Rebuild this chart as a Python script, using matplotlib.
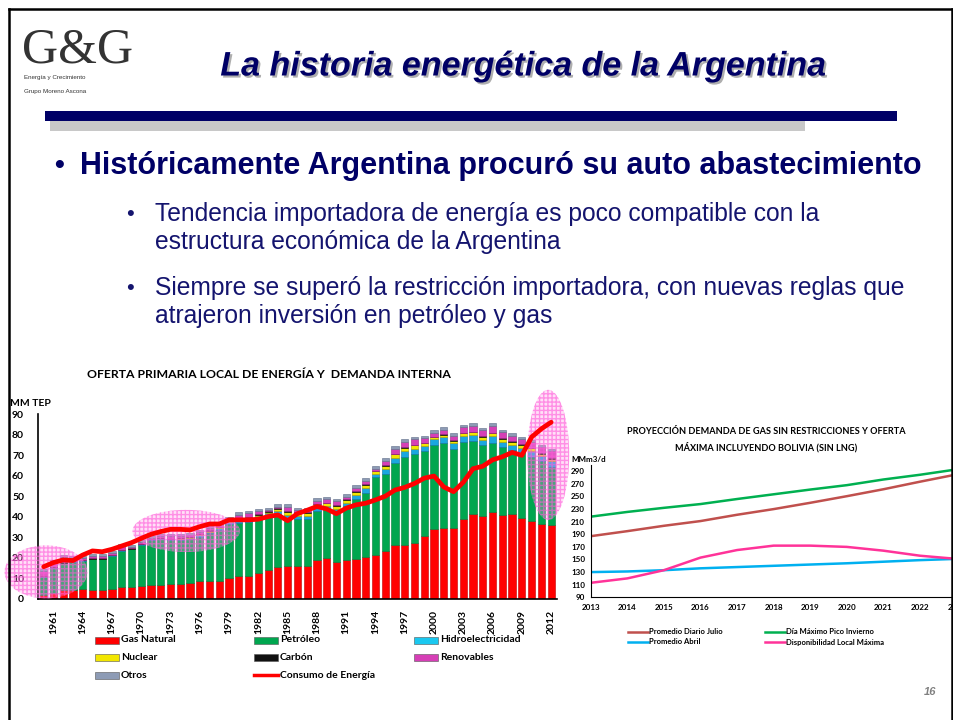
import numpy as np
import matplotlib
matplotlib.use("Agg")
import matplotlib.pyplot as plt
import matplotlib.patheffects as pe
from matplotlib.patches import Ellipse, Rectangle
from matplotlib.lines import Line2D

# --------------------------------------------------------------
# Data: oferta primaria local (MM TEP), 1960-2012
# --------------------------------------------------------------
years = list(range(1960, 2013))

gas_natural = [1.9, 2.9, 4.5, 4.5, 4.9, 4.5, 4.5, 4.9, 5.8, 5.8,
               6.5, 6.8, 6.8, 7.5, 7.5, 7.8, 8.8, 8.8, 8.8, 10.4,
               11.4, 11.4, 12.7, 14.3, 15.6, 16.2, 16.2, 16.2, 19.2, 20.1,
               18.0, 19.2, 19.5, 20.5, 21.4, 23.4, 26.3, 26.3, 27.1, 30.8,
               34.1, 34.7, 34.7, 39.0, 41.4, 40.6, 42.2, 40.9, 41.4, 39.6,
               38.0, 36.7, 36.0]
petroleo = [9.0, 12.4, 12.9, 13.7, 13.7, 14.8, 14.8, 16.1, 17.6, 18.4,
            19.8, 21.8, 22.4, 21.2, 21.2, 21.2, 21.6, 23.2, 24.7, 26.1,
            25.4, 26.3, 26.3, 25.8, 25.6, 22.6, 22.6, 22.6, 23.8, 23.6,
            24.2, 26.1, 29.0, 31.0, 38.1, 37.6, 40.1, 43.0, 43.5, 41.3,
            40.9, 41.1, 38.2, 37.6, 35.7, 34.1, 33.9, 33.0, 31.2, 31.3,
            31.3, 30.2, 28.4]
hidro = [0.2, 0.2, 0.2, 0.2, 0.2, 0.3, 0.3, 0.3, 0.3, 0.3,
         0.3, 0.4, 0.4, 0.4, 0.5, 0.6, 0.7, 0.8, 0.8, 1.0,
         1.3, 1.4, 1.5, 1.5, 1.6, 2.2, 1.8, 1.8, 1.8, 1.6,
         1.6, 1.6, 2.0, 2.3, 1.4, 2.4, 2.4, 2.6, 2.6, 2.3,
         2.6, 3.0, 3.0, 2.7, 2.5, 2.6, 3.0, 2.6, 2.5, 2.6,
         2.6, 2.5, 2.5]
nuclear = [0, 0, 0, 0, 0, 0, 0, 0, 0, 0,
           0, 0, 0, 0, 0.4, 0.5, 0.5, 0.5, 0.5, 0.6,
           0.6, 0.6, 0.6, 0.8, 1.0, 1.4, 1.2, 1.2, 1.2, 1.2,
           1.6, 1.4, 1.7, 1.7, 1.2, 1.5, 1.5, 1.6, 1.5, 1.4,
           1.1, 1.2, 1.2, 1.4, 1.5, 1.5, 1.6, 1.4, 1.3, 1.5,
           1.4, 1.2, 1.2]
carbon = [0.2] * 20 + [0.3] * 33
renovables = [2.3, 2.3, 2.6, 1.4, 0.8, 1.1, 0.9, 1.0, 1.9, 0.8,
              0.8, 0.5, 0.9, 1.2, 0.9, 1.0, 0.8, 1.0, 0.8, 0.5,
              2.0, 1.7, 1.4, 0.6, 0.8, 2.2, 1.2, 1.2, 1.5, 1.7,
              1.8, 1.2, 1.7, 1.7, 1.0, 2.1, 2.4, 2.8, 2.8, 2.2,
              1.9, 2.1, 2.1, 2.5, 3.0, 3.1, 3.4, 2.9, 2.8, 2.5,
              2.6, 2.9, 3.6]
otros = [1.0] * 20 + [1.2] * 33
consumo = [15.7, 17.7, 19.0, 18.7, 21.4, 23.4, 23.0, 24.2, 25.8, 27.4,
           29.5, 31.5, 32.8, 33.9, 33.9, 33.6, 35.2, 36.5, 36.5, 38.5,
           38.5, 38.5, 38.8, 40.1, 40.9, 38.1, 41.5, 43.2, 45.0, 43.8,
           41.5, 44.2, 45.8, 46.6, 48.2, 50.0, 53.0, 54.3, 56.2, 58.8,
           59.8, 54.5, 52.2, 56.8, 63.4, 64.6, 67.7, 69.2, 71.3, 69.9,
           78.8, 82.8, 86.0]

# --------------------------------------------------------------
# Data: proyeccion demanda de gas (MMm3/d), 2013-2023
# --------------------------------------------------------------
proj_years = list(range(2013, 2024))
promedio_julio = [187, 195, 203.5, 211, 221, 230, 240, 250.5, 261.5, 273.5, 285]
pico_invierno = [218, 225.5, 232, 238, 246, 253.5, 261, 268, 277, 284.5, 293]
promedio_abril = [130, 131, 133, 136, 138, 140, 142, 144, 146.5, 149, 151]
disponibilidad = [113, 120, 133, 153, 165, 172, 172, 170, 164, 156, 151]

# --------------------------------------------------------------
# Figure / slide helpers
# --------------------------------------------------------------
W, H = 954, 720
NAVY = "#000066"
SUB = "#14146E"
CHART_FONT = "Lato"
SLIDE_FONT = "Liberation Sans"


def fx(x):
    return x / W


def fy(y):
    return 1 - y / H


def box(l, t, r, b):
    return [l / W, 1 - b / H, (r - l) / W, (b - t) / H]


fig = plt.figure(figsize=(W / 100, H / 100), dpi=100)
fig.patch.set_facecolor("white")

# slide frame
fig.add_artist(Line2D([fx(9), fx(9)], [fy(9), fy(720)], color="black", lw=1.8))
fig.add_artist(Line2D([fx(9), fx(952)], [fy(9), fy(9)], color="black", lw=1.8))
fig.add_artist(Line2D([fx(952), fx(952)], [fy(9), fy(720)], color="black", lw=1.8))

# logo
fig.text(fx(22), fy(50), "G&G", family="Liberation Serif", fontsize=36,
         color="#333333", va="center", ha="left")
fig.text(fx(24), fy(78), "Energía y Crecimiento", family=SLIDE_FONT,
         fontsize=4.5, color="#333333", va="center")
fig.text(fx(24), fy(91), "Grupo Moreno Ascona", family=SLIDE_FONT,
         fontsize=4.5, color="#333333", va="center")

# title with shadow
fig.text(fx(523), fy(67), "La historia energética de la Argentina",
         family=SLIDE_FONT, fontsize=24.5, weight="bold", style="italic",
         color=NAVY, ha="center", va="center",
         path_effects=[pe.withSimplePatchShadow(offset=(1.5, -1.5),
                                                shadow_rgbFace="#9A9A9A", alpha=0.8)])

# title bars
fig.add_artist(Rectangle((fx(50), fy(131)), fx(805 - 50), 10 / H,
                         transform=fig.transFigure, color="#C8C8C8", lw=0))
fig.add_artist(Rectangle((fx(45), fy(121)), fx(897 - 45), 10 / H,
                         transform=fig.transFigure, color="#000066", lw=0))

# bullets
fig.text(fx(54), fy(166), "•", family=SLIDE_FONT, fontsize=20, weight="bold",
         color=NAVY, va="center")
fig.text(fx(80), fy(166), "Históricamente Argentina procuró su auto abastecimiento",
         family=SLIDE_FONT, fontsize=22, weight="bold", color=NAVY, va="center")

fig.text(fx(126), fy(214), "•", family=SLIDE_FONT, fontsize=16, color=SUB, va="center")
fig.text(fx(155), fy(214), "Tendencia importadora de energía es poco compatible con la",
         family=SLIDE_FONT, fontsize=17.7, color=SUB, va="center")
fig.text(fx(155), fy(242), "estructura económica de la Argentina",
         family=SLIDE_FONT, fontsize=17.7, color=SUB, va="center")
fig.text(fx(126), fy(288), "•", family=SLIDE_FONT, fontsize=16, color=SUB, va="center")
fig.text(fx(155), fy(288), "Siempre se superó la restricción importadora, con nuevas reglas que",
         family=SLIDE_FONT, fontsize=17.7, color=SUB, va="center")
fig.text(fx(155), fy(316), "atrajeron inversión en petróleo y gas",
         family=SLIDE_FONT, fontsize=17.7, color=SUB, va="center")

fig.text(fx(936), fy(692), "16", family=SLIDE_FONT, fontsize=8, weight="bold",
         style="italic", color="#808080", ha="right", va="center")

# --------------------------------------------------------------
# Left chart: stacked bars + consumo
# --------------------------------------------------------------
ax = fig.add_axes(box(38, 414, 557, 599))
x = np.arange(len(years))
layers = [
    (gas_natural, "#FF0000", "#C00000"),
    (petroleo, "#00A64F", "#007A3A"),
    (hidro, "#1AA7E0", "#0B6E9E"),
    (nuclear, "#F2E600", "#A89E00"),
    (carbon, "#222222", "#000000"),
    (renovables, "#D63FB6", "#9A2080"),
    (otros, "#8D9BB5", "#5E6C88"),
]
bottom = np.zeros(len(years))
for vals, col, edge in layers:
    vals = np.array(vals, dtype=float)
    ax.bar(x, vals, 0.74, bottom=bottom, color=col, edgecolor=edge,
           linewidth=0.4, zorder=2)
    bottom += vals
ax.plot(x, consumo, color="#FF0000", lw=3.4, solid_capstyle="round",
        solid_joinstyle="round", zorder=4)

ax.set_xlim(-0.58, 52.6)
ax.set_ylim(0, 90)
ax.set_yticks(range(0, 91, 10))
ax.set_xticks(x[1::3])
ax.set_xticklabels([str(y) for y in years[1::3]], rotation=90)
for s in ["top", "right"]:
    ax.spines[s].set_visible(False)
ax.spines["left"].set_linewidth(1.2)
ax.spines["bottom"].set_linewidth(1.2)
ax.tick_params(axis="both", length=0, labelsize=7.5)
ax.tick_params(axis="y", pad=10)
ax.tick_params(axis="x", pad=8)
for t in ax.get_xticklabels() + ax.get_yticklabels():
    t.set_fontweight("bold")
    t.set_family(CHART_FONT)

# pink hatched highlight ellipses
for cx, cy, w, h in [(0.24, 13.2, 8.5, 25.8), (14.6, 33.1, 11.0, 20.5),
                     (51.7, 70.1, 4.3, 63.3)]:
    e = Ellipse((cx, cy), w, h, facecolor=(1, 0.6, 0.9, 0.3),
                edgecolor=(1, 0.35, 0.85, 0.6), hatch="++++", lw=0,
                clip_on=False, zorder=3)
    ax.add_patch(e)

fig.text(fx(269), fy(375), "OFERTA PRIMARIA LOCAL DE ENERGÍA Y  DEMANDA INTERNA",
         family=CHART_FONT, fontsize=8.8, weight="bold", ha="center", va="center")
fig.text(fx(10), fy(403), "MM TEP", family=CHART_FONT, fontsize=7.5,
         weight="bold", ha="left", va="center")

# legend (left chart)
leg_items = [
    (95, 640, "#FF0000", "Gas Natural", "patch"),
    (254, 640, "#00A64F", "Petróleo", "patch"),
    (414, 640, "#1AC8F0", "Hidroelectricidad", "patch"),
    (95, 657, "#F2E600", "Nuclear", "patch"),
    (254, 657, "#111111", "Carbón", "patch"),
    (414, 657, "#D63FB6", "Renovables", "patch"),
    (95, 675, "#8D9BB5", "Otros", "patch"),
    (254, 675, "#FF0000", "Consumo de Energía", "line"),
]
for lx, ly, col, lab, kind in leg_items:
    if kind == "patch":
        fig.add_artist(Rectangle((fx(lx), fy(ly + 3.5)), 24 / W, 7 / H,
                                 transform=fig.transFigure, facecolor=col,
                                 edgecolor="#555555", lw=0.4))
    else:
        fig.add_artist(Line2D([fx(lx), fx(lx + 24)], [fy(ly), fy(ly)],
                              color=col, lw=2.5))
    fig.text(fx(lx + 26), fy(ly), lab, family=CHART_FONT, fontsize=7.5,
             weight="bold", va="center", ha="left")

# --------------------------------------------------------------
# Right chart: proyeccion de gas
# --------------------------------------------------------------
ax2 = fig.add_axes(box(590.7, 465, 956.6, 597.3))
ax2.plot(proj_years, promedio_julio, color="#C0504D", lw=1.8)
ax2.plot(proj_years, pico_invierno, color="#00B050", lw=1.8)
ax2.plot(proj_years, promedio_abril, color="#00B0F0", lw=1.8)
ax2.plot(proj_years, disponibilidad, color="#FF3399", lw=1.8)
ax2.set_xlim(2013, 2023)
ax2.set_ylim(90, 300)
ax2.set_yticks(range(90, 300, 20))
ax2.set_xticks(proj_years)
for s in ["top", "right"]:
    ax2.spines[s].set_visible(False)
ax2.tick_params(axis="both", length=0, labelsize=5.8)
ax2.tick_params(axis="y", pad=4)
ax2.tick_params(axis="x", pad=5)
for t in ax2.get_xticklabels() + ax2.get_yticklabels():
    t.set_fontweight("bold")
    t.set_family(CHART_FONT)

fig.text(fx(766), fy(432), "PROYECCIÓN DEMANDA DE GAS SIN RESTRICCIONES Y OFERTA",
         family=CHART_FONT, fontsize=6.6, weight="bold", ha="center", va="center")
fig.text(fx(766), fy(447), "MÁXIMA INCLUYENDO BOLIVIA (SIN LNG)",
         family=CHART_FONT, fontsize=6.6, weight="bold", ha="center", va="center")
fig.text(fx(571), fy(460), "MMm3/d", family=CHART_FONT, fontsize=5.8,
         weight="bold", ha="left", va="center")

leg2 = [
    (628, 632, "#C0504D", "Promedio Diario Julio"),
    (765, 632, "#00B050", "Día Máximo Pico Invierno"),
    (628, 642, "#00B0F0", "Promedio Abril"),
    (765, 642, "#FF3399", "Disponibilidad Local Máxima"),
]
for lx, ly, col, lab in leg2:
    fig.add_artist(Line2D([fx(lx), fx(lx + 20)], [fy(ly), fy(ly)], color=col, lw=1.8))
    fig.text(fx(lx + 21), fy(ly), lab, family=CHART_FONT, fontsize=5.5,
             weight="bold", va="center", ha="left")

fig.savefig("out.png", dpi=100)
